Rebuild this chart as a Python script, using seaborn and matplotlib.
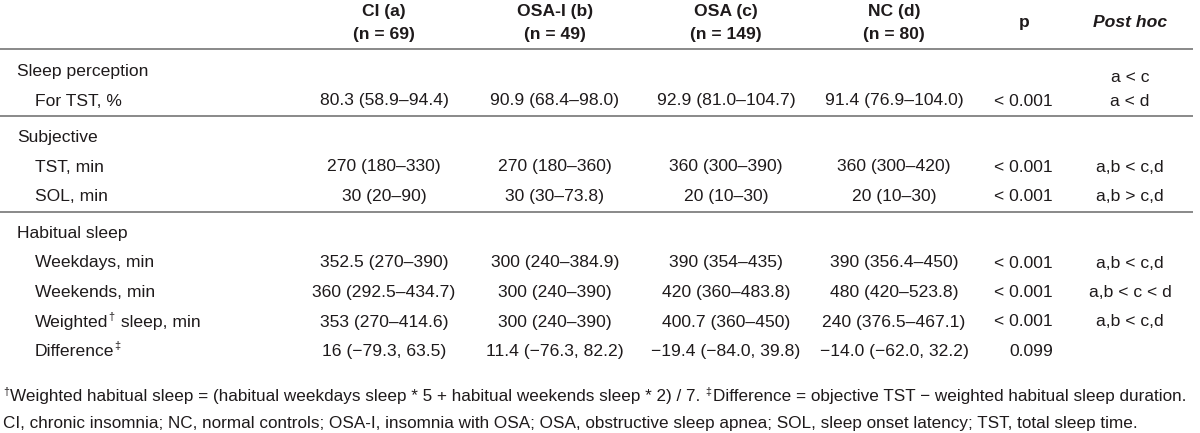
import matplotlib
matplotlib.use("Agg")
import matplotlib.pyplot as plt
import seaborn as sns
from matplotlib import font_manager as fm

# ---------------- data ----------------
groups = ["CI (a)", "OSA-I (b)", "OSA (c)", "NC (d)"]
group_n = ["(n = 69)", "(n = 49)", "(n = 149)", "(n = 80)"]
sections = ["Sleep perception", "Subjective", "Habitual sleep"]
row_labels = [
    [("For TST, %", False)],
    [("TST, min", False)],
    [("SOL, min", False)],
    [("Weekdays, min", False)],
    [("Weekends, min", False)],
    [("Weighted", False), ("†", True), (" sleep, min", False)],
    [("Difference", False), ("‡", True)],
]
row_section = [0, 1, 1, 2, 2, 2, 2]
ci_vals = ["80.3 (58.9–94.4)", "270 (180–330)", "30 (20–90)", "352.5 (270–390)",
           "360 (292.5–434.7)", "353 (270–414.6)", "16 (−79.3, 63.5)"]
osai_vals = ["90.9 (68.4–98.0)", "270 (180–360)", "30 (30–73.8)", "300 (240–384.9)",
             "300 (240–390)", "300 (240–390)", "11.4 (−76.3, 82.2)"]
osa_vals = ["92.9 (81.0–104.7)", "360 (300–390)", "20 (10–30)", "390 (354–435)",
            "420 (360–483.8)", "400.7 (360–450)", "−19.4 (−84.0, 39.8)"]
nc_vals = ["91.4 (76.9–104.0)", "360 (300–420)", "20 (10–30)", "390 (356.4–450)",
           "480 (420–523.8)", "240 (376.5–467.1)", "−14.0 (−62.0, 32.2)"]
p_vals = ["< 0.001", "< 0.001", "< 0.001", "< 0.001", "< 0.001", "< 0.001", "0.099"]
post_hoc = [["a < c", "a < d"], ["a,b < c,d"], ["a,b > c,d"], ["a,b < c,d"],
            ["a,b < c < d"], ["a,b < c,d"], []]
footnote1 = [("†", True),
             ("Weighted habitual sleep = (habitual weekdays sleep * 5 + habitual weekends sleep * 2) / 7. ", False),
             ("‡", True),
             ("Difference = objective TST − weighted habitual sleep duration.", False)]
footnote2 = [("CI, chronic insomnia; NC, normal controls; OSA-I, insomnia with OSA; OSA, "
              "obstructive sleep apnea; SOL, sleep onset latency; TST, total sleep time.", False)]

# ---------------- style ----------------
sns.set_theme(style="white")
avail = {f.name for f in fm.fontManager.ttflist}
NARROW = "Liberation Sans Narrow" in avail
FONT = "Liberation Sans Narrow" if NARROW else "Liberation Sans"
plt.rcParams["font.family"] = [FONT, "DejaVu Sans"]
FS = 14.8 if NARROW else 12.6
FS_NOTE = 14.4 if NARROW else 12.3
TXT = "#1e1a1b"
RULE = "#808080"

fig = plt.figure(figsize=(12, 4.33), dpi=100)
ax = fig.add_axes([0, 0, 1, 1])
ax.set_xlim(0, 1200)
ax.set_ylim(433, 0)
ax.axis("off")
renderer = fig.canvas.get_renderer()

# layout
col_x = [384, 555, 726, 894]
p_x = 1024
p_right = 1053
ph_x = 1130
label_x0, label_x1 = 17, 35
line_h = 29.5
rules_y = [49, 116, 212]


def draw_parts(x, y, parts, size=FS, ha="left"):
    arts = []
    widths = []
    for s, sup in parts:
        t = ax.text(0, 0, s, fontsize=size * 0.62 if sup else size, color=TXT,
                    va="baseline", ha="left")
        w = t.get_window_extent(renderer).width
        arts.append((t, sup))
        widths.append(w)
    total = sum(widths)
    cx = x - total / 2 if ha == "center" else x
    for (t, sup), w in zip(arts, widths):
        t.set_position((cx, y - (6.5 if sup else 0)))
        cx += w + (1.5 if sup else 0)


# header
for x, g, n in zip(col_x, groups, group_n):
    ax.text(x, 16, g, fontsize=FS, fontweight="bold", color=TXT, ha="center", va="baseline")
    ax.text(x, 39, n, fontsize=FS, fontweight="bold", color=TXT, ha="center", va="baseline")
ax.text(p_x, 27, "p", fontsize=FS, fontweight="bold", color=TXT, ha="center", va="baseline")
ax.text(ph_x, 27, "Post hoc", fontsize=FS, fontweight="bold", fontstyle="italic",
        color=TXT, ha="center", va="baseline")

for ry in rules_y:
    ax.plot([0, 1193], [ry, ry], color=RULE, lw=1.3, solid_capstyle="butt")

# body
section_start = {0: 76, 1: 142, 2: 238}
y_positions = []
current = {}
for i, s in enumerate(row_section):
    if s not in current:
        current[s] = section_start[s]
    current[s] += line_h
    y_positions.append(current[s])

for s, name in enumerate(sections):
    ax.text(label_x0, section_start[s], name, fontsize=FS, color=TXT, ha="left", va="baseline")

columns = [ci_vals, osai_vals, osa_vals, nc_vals]
for i, y in enumerate(y_positions):
    draw_parts(label_x1, y, row_labels[i])
    for x, col in zip(col_x, columns):
        ax.text(x, y, col[i], fontsize=FS, color=TXT, ha="center", va="baseline")
    ax.text(p_right, y, p_vals[i], fontsize=FS, color=TXT, ha="right", va="baseline")
    ph = post_hoc[i]
    for k, s in enumerate(reversed(ph)):
        ax.text(ph_x, y - k * 24, s, fontsize=FS, color=TXT, ha="center", va="baseline")

# footnotes
draw_parts(3, 401, footnote1, size=FS_NOTE)
draw_parts(3, 428, footnote2, size=FS_NOTE)

fig.savefig("out.png", dpi=100, facecolor="white")
